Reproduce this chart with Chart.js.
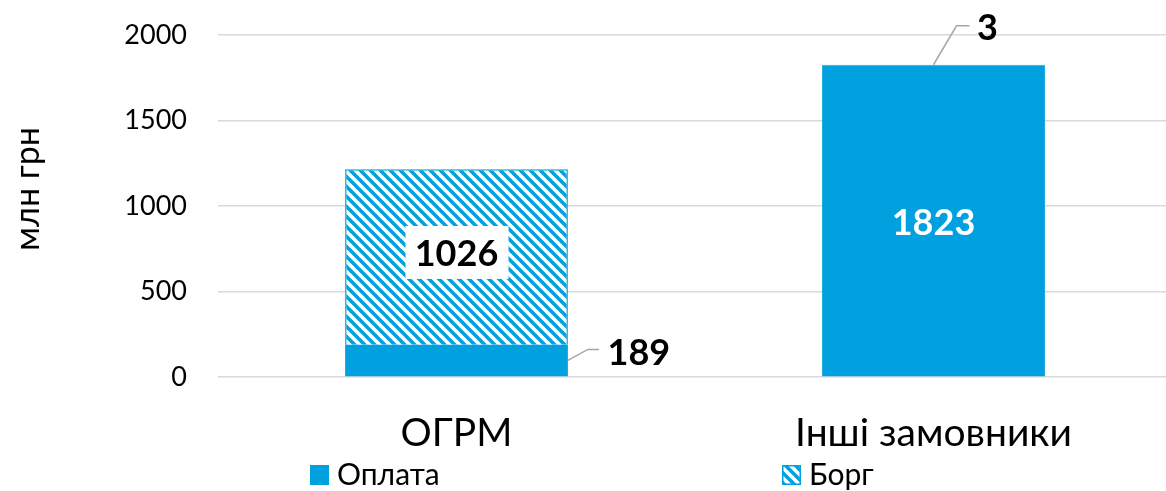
<!DOCTYPE html>
<html><head><meta charset="utf-8">
<script src="https://cdn.jsdelivr.net/npm/chart.js@4.4.1/dist/chart.umd.min.js"></script>
<style>html,body{margin:0;padding:0;background:#fff;overflow:hidden}#wrap{width:1166px;height:491px;position:relative;overflow:hidden}</style>
</head><body><div id="wrap"><canvas id="c" width="1172" height="491"></canvas></div>
<script>
const categories = ['ОГРМ', 'Інші замовники'];
const oplata = [189, 1823];
const borg = [1026, 3];
const yTicks = [0, 500, 1000, 1500, 2000];
const seriesNames = ['Оплата', 'Борг'];
const axisTitle = 'млн грн';

const BLUE = '#00A1DE';
const FONT = 'Lato, "Liberation Sans", sans-serif';

function makeHatch() {
  const s = 10;
  const c = document.createElement('canvas');
  c.width = s; c.height = s;
  const g = c.getContext('2d');
  g.fillStyle = '#fff'; g.fillRect(0, 0, s, s);
  g.strokeStyle = BLUE; g.lineWidth = 3.6;
  for (const o of [-s, 0, s]) {
    g.beginPath(); g.moveTo(o - 2, -2); g.lineTo(o + s + 2, s + 2); g.stroke();
  }
  return g.createPattern(c, 'repeat');
}
const hatch = makeHatch();

const labelPlugin = {
  id: 'customLabels',
  afterDatasetsDraw(chart) {
    const ctx = chart.ctx;
    const m0 = chart.getDatasetMeta(0), m1 = chart.getDatasetMeta(1);
    ctx.save();
    ctx.font = 'bold 36px ' + FONT;
    ctx.textAlign = 'center'; ctx.textBaseline = 'middle';
    const b0 = m1.data[0];
    const cy0 = (b0.y + b0.base) / 2;
    ctx.fillStyle = '#fff';
    ctx.fillRect(b0.x - 51, cy0 - 31, 103, 53);
    ctx.fillStyle = '#000';
    ctx.fillText(String(borg[0]), b0.x, cy0 - 3);
    const a1 = m0.data[1];
    ctx.fillStyle = '#fff';
    ctx.fillText(String(oplata[1]), a1.x, (a1.y + a1.base) / 2 + 3);
    ctx.strokeStyle = '#a6a6a6'; ctx.lineWidth = 1.5;
    const a0 = m0.data[0];
    const rx = a0.x + a0.width / 2;
    const my = (a0.y + a0.base) / 2;
    ctx.beginPath(); ctx.moveTo(rx, my); ctx.lineTo(rx + 20, my - 11); ctx.lineTo(rx + 31, my - 11); ctx.stroke();
    ctx.fillStyle = '#000';
    ctx.fillText(String(oplata[0]), rx + 71, my - 7);
    const b1 = m1.data[1];
    ctx.beginPath(); ctx.moveTo(b1.x, b1.y); ctx.lineTo(b1.x + 23, b1.y - 39); ctx.lineTo(b1.x + 36, b1.y - 39); ctx.stroke();
    ctx.fillText(String(borg[1]), b1.x + 54, b1.y - 36);
    ctx.restore();
  },
  afterDraw(chart) {
    const ctx = chart.ctx;
    ctx.save();
    ctx.font = '34px ' + FONT;
    ctx.fillStyle = '#000';
    ctx.textAlign = 'center'; ctx.textBaseline = 'middle';
    ctx.translate(28, 189); ctx.rotate(-Math.PI / 2);
    ctx.fillText(axisTitle, 0, 0);
    ctx.restore();
    ctx.save();
    ctx.font = '30px ' + FONT;
    ctx.textAlign = 'left'; ctx.textBaseline = 'middle';
    const items = [
      { x: 310, fill: BLUE, border: null, text: seriesNames[0] },
      { x: 782, fill: hatch, border: BLUE, text: seriesNames[1] }
    ];
    for (const it of items) {
      ctx.fillStyle = it.fill;
      ctx.fillRect(it.x, 465, 19, 20);
      if (it.border) { ctx.strokeStyle = it.border; ctx.lineWidth = 1.5; ctx.strokeRect(it.x + 0.75, 465.75, 17.5, 18.5); }
      ctx.fillStyle = '#000';
      ctx.fillText(it.text, it.x + 27, 475);
    }
    ctx.restore();
  }
};

new Chart(document.getElementById('c'), {
  type: 'bar',
  data: {
    labels: categories,
    datasets: [
      { label: seriesNames[0], data: oplata, backgroundColor: BLUE, borderWidth: 0 },
      { label: seriesNames[1], data: borg, backgroundColor: hatch, borderColor: BLUE, borderWidth: 1.5 }
    ]
  },
  options: {
    responsive: false,
    animation: false,
    devicePixelRatio: 1,
    layout: { padding: { top: 35, right: 0, left: 0, bottom: 0 } },
    plugins: { legend: { display: false }, tooltip: { enabled: false } },
    datasets: { bar: { barPercentage: 0.467, categoryPercentage: 1 } },
    scales: {
      x: {
        stacked: true,
        grid: { display: false, drawTicks: false },
        border: { display: false },
        ticks: { color: '#000', font: { family: FONT, size: 39 }, padding: 33, maxRotation: 0 },
        afterFit(s) { s.height = 114; }
      },
      y: {
        stacked: true,
        min: 0, max: 2000,
        afterBuildTicks(s) { s.ticks = yTicks.map(v => ({ value: v })); },
        grid: { color: '#d9d9d9', lineWidth: 1.5, drawTicks: true, tickLength: 31, tickColor: 'rgba(0,0,0,0)' },
        border: { display: false },
        ticks: { color: '#000', font: { family: FONT, size: 27 }, padding: 0, callback: v => String(v) },
        afterFit(s) { s.width = 218; }
      }
    }
  },
  plugins: [labelPlugin]
});
</script></body></html>
